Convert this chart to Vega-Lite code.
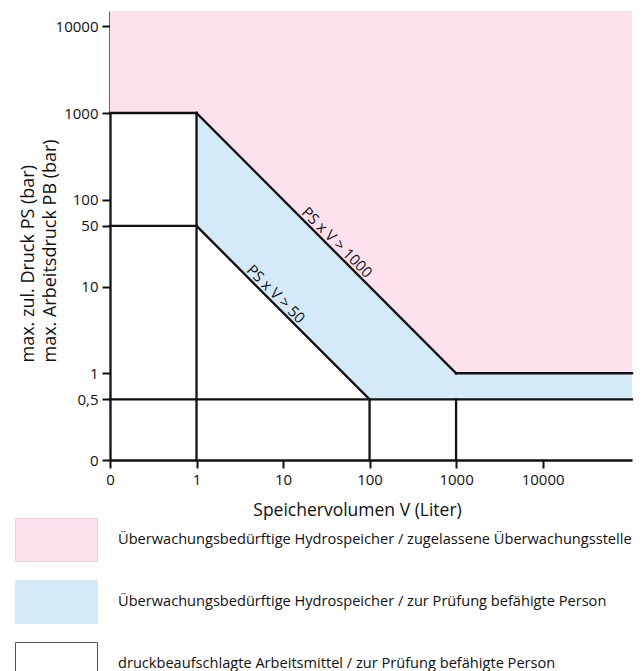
{
  "$schema": "https://vega.github.io/schema/vega-lite/v6.json",
  "width": 522,
  "height": 449,
  "autosize": {"type": "none"},
  "padding": {"left": 110, "top": 11, "right": 12, "bottom": 211},
  "background": "white",
  "config": {
    "view": {"stroke": null},
    "font": "Open Sans",
    "axis": {
      "labelFont": "Open Sans", "labelFontSize": 15, "labelColor": "#111",
      "titleFont": "Open Sans", "titleFontSize": 17.5, "titleFontWeight": "normal", "titleColor": "#111",
      "domainColor": "#111", "domainWidth": 2.3, "tickColor": "#111", "tickWidth": 2, "tickSize": 8,
      "grid": false, "zindex": 1
    }
  },
  "datasets": {
    "areas": [
      {"cat": "Überwachungsbedürftige Hydrospeicher / zugelassene Überwachungsstelle", "x": 0.1, "y": 1000, "y2": 15000},
      {"cat": "Überwachungsbedürftige Hydrospeicher / zugelassene Überwachungsstelle", "x": 1, "y": 1000, "y2": 15000},
      {"cat": "Überwachungsbedürftige Hydrospeicher / zugelassene Überwachungsstelle", "x": 1000, "y": 1, "y2": 15000},
      {"cat": "Überwachungsbedürftige Hydrospeicher / zugelassene Überwachungsstelle", "x": 108000, "y": 1, "y2": 15000},
      {"cat": "Überwachungsbedürftige Hydrospeicher / zur Prüfung befähigte Person", "x": 1, "y": 1000, "y2": 50},
      {"cat": "Überwachungsbedürftige Hydrospeicher / zur Prüfung befähigte Person", "x": 100, "y": 10, "y2": 0.5},
      {"cat": "Überwachungsbedürftige Hydrospeicher / zur Prüfung befähigte Person", "x": 1000, "y": 1, "y2": 0.5},
      {"cat": "Überwachungsbedürftige Hydrospeicher / zur Prüfung befähigte Person", "x": 108000, "y": 1, "y2": 0.5}
    ],
    "segments": [
      {"x": 0.1, "y": 1000, "x2": 1, "y2": 1000},
      {"x": 1, "y": 1000, "x2": 1000, "y2": 1},
      {"x": 1000, "y": 1, "x2": 108000, "y2": 1},
      {"x": 1, "y": 0.1, "x2": 1, "y2": 1000},
      {"x": 0.1, "y": 50, "x2": 1, "y2": 50},
      {"x": 1, "y": 50, "x2": 100, "y2": 0.5},
      {"x": 0.1, "y": 0.5, "x2": 108000, "y2": 0.5},
      {"x": 100, "y": 0.1, "x2": 100, "y2": 0.5},
      {"x": 1000, "y": 0.1, "x2": 1000, "y2": 0.5}
    ],
    "labels": [
      {"x": 36.1, "y": 27.7, "t": "PS x V > 1000"},
      {"x": 7.1, "y": 7.04, "t": "PS x V > 50"}
    ]
  },
  "layer": [
    {
      "data": {"name": "areas"},
      "mark": {"type": "area", "opacity": 1},
      "encoding": {
        "x": {"field": "x", "type": "quantitative",
          "scale": {"type": "log", "domain": [0.1, 108000], "nice": false},
          "axis": {
            "values": [0.1, 1, 10, 100, 1000, 10000],
            "labelExpr": "datum.value < 0.2 ? '0' : datum.value == 0.5 ? '0,5' : '' + datum.value",
            "labelPadding": 4, "labelFlush": false,
            "title": "Speichervolumen V (Liter)",
            "titleX": 247, "titleY": 55, "titleAlign": "center", "titleBaseline": "alphabetic", "titleAnchor": null
          }
        },
        "y": {"field": "y", "type": "quantitative",
          "scale": {"type": "log", "domain": [0.1, 15000], "nice": false},
          "axis": {
            "values": [0.1, 0.5, 1, 10, 50, 100, 1000, 10000],
            "labelExpr": "datum.value < 0.2 ? '0' : datum.value == 0.5 ? '0,5' : '' + datum.value",
            "labelPadding": 4, "labelFlush": false,
            "title": ["max. zul. Druck PS (bar)", "max. Arbeitsdruck PB (bar)"],
            "titleAngle": -90, "titleAlign": "left", "titleBaseline": "alphabetic", "titleFontSize": 18,
            "titleX": -77, "titleY": 351, "titleLineHeight": 22, "titleAnchor": null
          }
        },
        "y2": {"field": "y2"},
        "color": {"field": "cat", "type": "nominal",
          "scale": {
            "domain": [
              "Überwachungsbedürftige Hydrospeicher / zugelassene Überwachungsstelle",
              "Überwachungsbedürftige Hydrospeicher / zur Prüfung befähigte Person",
              "druckbeaufschlagte Arbeitsmittel / zur Prüfung befähigte Person"
            ],
            "range": ["#fde1ec", "#d5eaf9", "#ffffff"]
          },
          "legend": {
            "orient": "none", "legendX": -75.5, "legendY": 507, "direction": "vertical", "title": null,
            "symbolType": "M-1.907,-1H1.907V1H-1.907Z", "symbolSize": 1849,
            "labelFont": "Open Sans", "labelFontSize": 14.6, "labelColor": "#111", "labelLimit": 0,
            "labelOffset": 39.5, "rowPadding": 14, "padding": 0, "symbolStrokeWidth": 1, "symbolOpacity": 1,
            "encode": {"symbols": {"update": {"stroke": {"signal": "indexof(datum.label, 'druck') === 0 ? '#555555' : indexof(datum.label, 'zugelassene') > 0 ? '#f3cfdc' : '#d5eaf9'"}}}}
          }
        },
        "detail": {"field": "cat"}
      }
    },
    {
      "data": {"name": "segments"},
      "mark": {"type": "rule", "color": "#111", "strokeWidth": 2.3, "strokeCap": "square"},
      "encoding": {
        "x": {"field": "x", "type": "quantitative"},
        "y": {"field": "y", "type": "quantitative"},
        "x2": {"field": "x2"},
        "y2": {"field": "y2"}
      }
    },
    {
      "data": {"name": "labels"},
      "mark": {"type": "text", "font": "Open Sans", "fontSize": 15, "angle": 45, "align": "center", "baseline": "middle", "dy": -8, "color": "#111"},
      "encoding": {
        "x": {"field": "x", "type": "quantitative"},
        "y": {"field": "y", "type": "quantitative"},
        "text": {"field": "t"}
      }
    }
  ]
}
